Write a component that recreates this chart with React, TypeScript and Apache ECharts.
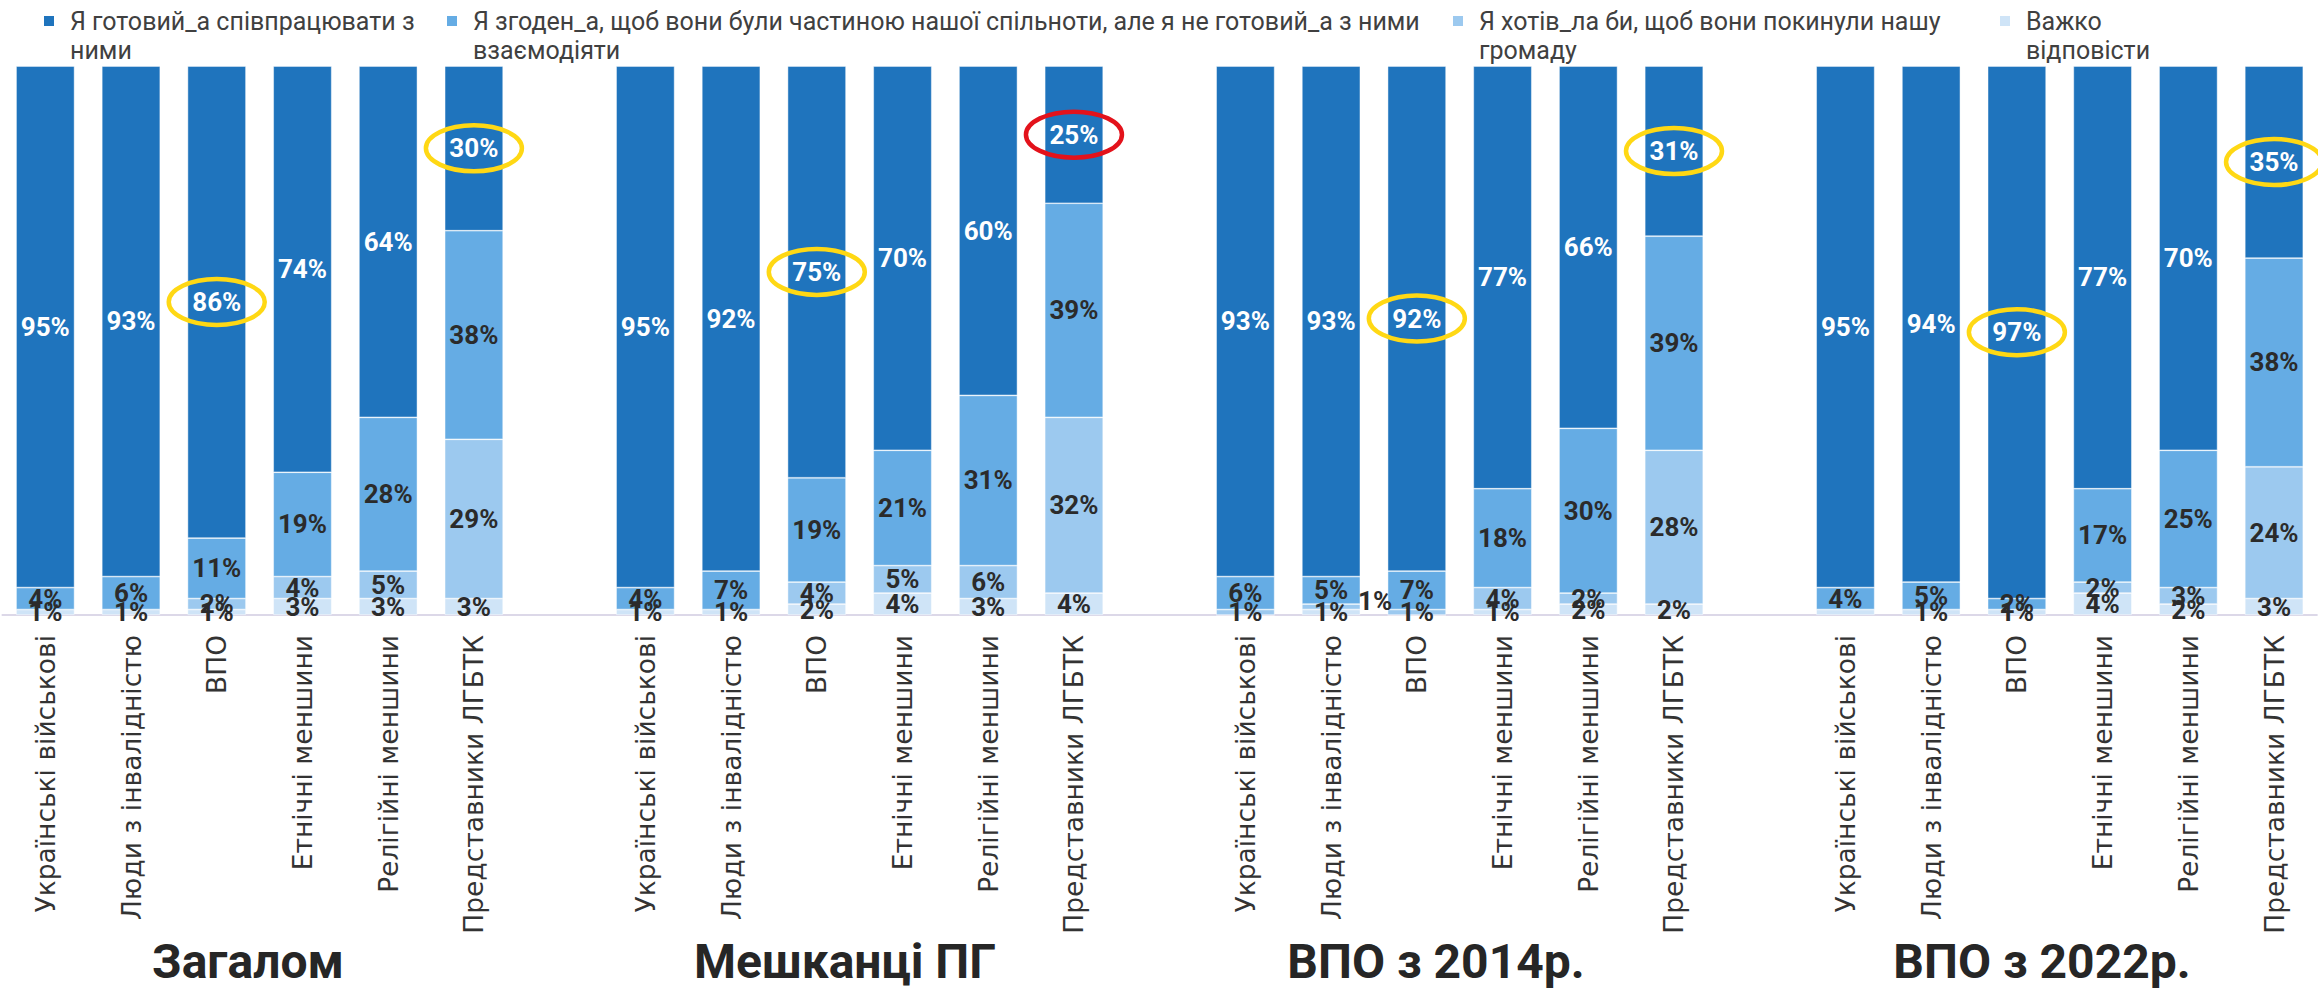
import React, { useEffect, useRef } from 'react';
import * as echarts from 'echarts';

// ---- data ----
const categories = [
  'Українські військові',
  'Люди з інвалідністю',
  'ВПО',
  'Етнічні меншини',
  'Релігійні меншини',
  'Представники ЛГБТК',
];
const groupTitles = ['Загалом', 'Мешканці ПГ', 'ВПО з 2014р.', 'ВПО з 2022р.'];
const seriesNames = [
  'Я готовий_а співпрацювати з ними',
  'Я згоден_а, щоб вони були частиною нашої спільноти, але я не готовий_а з ними взаємодіяти',
  'Я хотів_ла би, щоб вони покинули нашу громаду',
  'Важко відповісти',
];
const legendLines = [
  'Я готовий_а співпрацювати з\nними',
  'Я згоден_а, щоб вони були частиною нашої спільноти, але я не готовий_а з ними\nвзаємодіяти',
  'Я хотів_ла би, щоб вони покинули нашу\nгромаду',
  'Важко\nвідповісти',
];
// values per group (Загалом, Мешканці ПГ, ВПО з 2014р., ВПО з 2022р.), 6 categories each
const ready = [95, 93, 86, 74, 64, 30, 95, 92, 75, 70, 60, 25, 93, 93, 92, 77, 66, 31, 95, 94, 97, 77, 70, 35];
const agreeNotInteract = [4, 6, 11, 19, 28, 38, 4, 7, 19, 21, 31, 39, 6, 5, 7, 18, 30, 39, 4, 5, 2, 17, 25, 38];
const wantLeave = [0, 0, 2, 4, 5, 29, 0, 0, 4, 5, 6, 32, 1, 1, 1, 4, 2, 28, 0, 0, 0, 2, 3, 24];
const hardToSay = [1, 1, 1, 3, 3, 3, 1, 1, 2, 4, 3, 4, 0, 1, 0, 1, 2, 2, 1, 1, 1, 4, 2, 3];
// highlighted "ready" values (index into the 24 bars) and ring colour
const highlightIdx = [2, 5, 8, 11, 14, 17, 20, 23];
const highlightRed = [11];
// label tweaks
const hiddenLabels = [[3, 18]]; // [seriesIndex, barIndex]
const movedLabels = [[2, 13, 44, -6]]; // [seriesIndex, barIndex, dx, dy]

const colors = ['#1F74BD', '#65ACE4', '#9CC9EF', '#CFE4F7'];
const rawSeries = [ready, agreeNotInteract, wantLeave, hardToSay];

const App: React.FC = () => {
  const ref = useRef<HTMLDivElement>(null);

  useEffect(() => {
    document.body.style.margin = '0';
    if (!ref.current) return;
    const chart = echarts.init(ref.current, undefined, { renderer: 'svg' });

    const perGroup = categories.length;
    const slotOf = (i: number) => Math.floor(i / perGroup) * (perGroup + 1) + (i % perGroup);
    const nSlots = groupTitles.length * (perGroup + 1) - 1;
    const axisData: string[] = [];
    for (let s = 0; s < nSlots; s++) {
      const j = s % (perGroup + 1);
      axisData.push(j < perGroup ? categories[j] : '');
    }
    const totals = ready.map((_, i) => rawSeries.reduce((a, arr) => a + arr[i], 0));

    const barSeries = rawSeries.map((arr, si) => {
      const data: any[] = new Array(nSlots).fill(null);
      arr.forEach((v, i) => {
        const item: any = { value: (v / totals[i]) * 100, raw: v };
        if (hiddenLabels.some(h => h[0] === si && h[1] === i)) item.label = { show: false };
        const mv = movedLabels.find(m => m[0] === si && m[1] === i);
        if (mv) item.label = { offset: [mv[2], mv[3]] };
        data[slotOf(i)] = item;
      });
      return {
        type: 'bar',
        name: seriesNames[si],
        stack: 'total',
        barWidth: 58.5,
        itemStyle: { color: colors[si], borderColor: 'rgba(255,255,255,0.6)', borderWidth: 0.75 },
        label: {
          show: true,
          position: 'inside',
          fontFamily: 'Roboto',
          fontWeight: 'bold',
          fontSize: 26,
          color: si === 0 ? '#ffffff' : '#2b2b2b',
          formatter: (p: any) => (p.data && p.data.raw ? p.data.raw + '%' : ''),
        },
        data,
      };
    });

    const ringData = highlightIdx.map(i => {
      const top = 100 - (ready[i] / totals[i]) * 100 / 2;
      return [slotOf(i), top];
    });

    const legendLeft = [44, 447, 1453, 2000];
    const legendGraphics = seriesNames.map((n, i) => ({
      type: 'group',
      name: n,
      children: [
        { type: 'rect', shape: { x: legendLeft[i], y: 16, width: 10, height: 10 }, style: { fill: colors[i] } },
        {
          type: 'text',
          x: legendLeft[i] + 26,
          y: 7,
          style: {
            text: legendLines[i],
            fontFamily: 'Roboto',
            fontSize: 25,
            lineHeight: 29,
            fill: '#404040',
            verticalAlign: 'top',
            align: 'left',
          },
        },
      ],
    }));

    const titleX = [248, 845, 1436, 2042];
    const titleGraphics = groupTitles.map((t, g) => ({
      type: 'text',
      x: titleX[g],
      y: 961,
      style: {
        text: t,
        fontFamily: 'Roboto',
        fontWeight: 'bold',
        fontSize: 48,
        fill: '#262626',
        align: 'center',
        verticalAlign: 'middle',
      },
    }));

    const option: any = {
      animation: false,
      grid: { left: 2.44, right: 1.1, top: 66, bottom: 377, containLabel: false },
      xAxis: {
        type: 'category',
        data: axisData,
        axisTick: { show: false },
        axisLine: { show: true, lineStyle: { color: '#dcd8e8', width: 2 } },
        axisLabel: {
          interval: 0,
          rotate: 90,
          margin: 20,
          fontFamily: 'DejaVu Sans',
          fontSize: 26.5,
          color: '#333333',
        },
      },
      yAxis: { type: 'value', min: 0, max: 100, show: false, splitLine: { show: false } },
      series: [
        ...barSeries.slice().reverse(),
        {
          type: 'custom',
          name: 'highlight',
          silent: true,
          z: 10,
          clip: false,
          data: ringData,
          renderItem: (params: any, api: any) => {
            const p = api.coord([api.value(0), api.value(1)]);
            const isRed = highlightRed.includes(highlightIdx[params.dataIndex]);
            return {
              type: 'ellipse',
              shape: { cx: p[0], cy: p[1], rx: 48, ry: 23 },
              style: { fill: 'none', stroke: isRed ? '#E3121B' : '#FFD814', lineWidth: 4.5 },
            };
          },
        },
      ],
      graphic: [...legendGraphics, ...titleGraphics],
    };
    chart.setOption(option);
    return () => chart.dispose();
  }, []);

  return <div ref={ref} style={{ width: 2318, height: 992 }} />;
};

export default App;
